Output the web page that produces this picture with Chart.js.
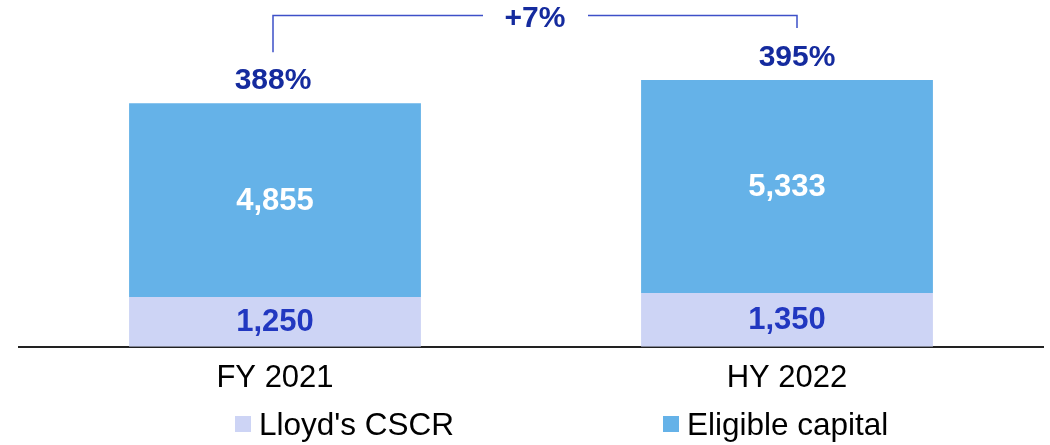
<!DOCTYPE html>
<html>
<head>
<meta charset="utf-8">
<script src="https://cdn.jsdelivr.net/npm/chart.js@4/dist/chart.umd.min.js"></script>
<style>
  html, body { margin: 0; padding: 0; background: #fff; }
  #wrap { position: relative; width: 1050px; height: 445px; }
  .legend-item {
    position: absolute; top: 407px; height: 34px;
    display: flex; align-items: center;
    font: 31.5px "Liberation Sans", Arial, sans-serif; color: #000; white-space: nowrap;
  }
  .legend-item .box { width: 16px; height: 16px; margin-right: 8px; }
</style>
</head>
<body>
<div id="wrap">
  <canvas id="myChart" width="1050" height="445"></canvas>
</div>
<script>
const categories = ["FY 2021", "HY 2022"];
const cscrValues = [1250, 1350];
const eligibleValues = [4855, 5333];
const ratioLabels = ["388%", "395%"];
const changeLabel = "+7%";

const CSCR_COLOR = "#cdd4f5";
const ELIGIBLE_COLOR = "#65b2e8";
const NAVY = "#152b9e";
const LABEL_BLUE = "#2137c0";
const FONT = '"Liberation Sans", Arial, sans-serif';

// value labels, ratio labels and the bracket on top
const labelPlugin = {
  id: "labels",
  afterDatasetsDraw(chart) {
    const ctx = chart.ctx;
    ctx.save();
    ctx.textAlign = "center";
    ctx.textBaseline = "middle";
    ctx.font = "bold 31px " + FONT;

    chart.data.datasets.forEach((ds, di) => {
      const meta = chart.getDatasetMeta(di);
      meta.data.forEach((bar, i) => {
        ctx.fillStyle = di === 0 ? LABEL_BLUE : "#ffffff";
        ctx.fillText(ds.data[i].toLocaleString("en-US"), bar.x, (bar.y + bar.base) / 2 + 1);
      });
    });

    // ratio labels above the stacks
    const top = chart.getDatasetMeta(1).data;
    const dx = [-2, 10];
    ctx.font = "bold 30px " + FONT;
    ctx.fillStyle = NAVY;
    const pts = top.map((bar, i) => ({ x: bar.x + dx[i], y: bar.y - 22 }));
    pts.forEach((p, i) => ctx.fillText(ratioLabels[i], p.x, p.y));

    // bracket with change label
    const lineY = 15.5;
    const midX = (pts[0].x + pts[1].x) / 2;
    ctx.strokeStyle = "#3d50c8";
    ctx.lineWidth = 1.5;
    ctx.beginPath();
    ctx.moveTo(pts[0].x, pts[0].y - 29);
    ctx.lineTo(pts[0].x, lineY);
    ctx.lineTo(midX - 52, lineY);
    ctx.moveTo(midX + 53, lineY);
    ctx.lineTo(pts[1].x, lineY);
    ctx.lineTo(pts[1].x, pts[1].y - 30);
    ctx.stroke();
    ctx.fillText(changeLabel, midX, 19);
    ctx.restore();
  }
};

const chart = new Chart(document.getElementById("myChart"), {
  type: "bar",
  data: {
    labels: categories,
    datasets: [
      { label: "Lloyd's CSCR", data: cscrValues, backgroundColor: CSCR_COLOR },
      { label: "Eligible capital", data: eligibleValues, backgroundColor: ELIGIBLE_COLOR }
    ]
  },
  options: {
    responsive: false,
    animation: false,
    devicePixelRatio: 1,
    layout: { padding: { left: 19, right: 7, top: 0, bottom: 35 } },
    datasets: { bar: { barPercentage: 0.57, categoryPercentage: 1 } },
    plugins: { legend: { display: false }, tooltip: { enabled: false } },
    scales: {
      x: {
        stacked: true,
        grid: { display: false, drawTicks: false },
        border: { display: true, color: "#222", width: 2 },
        ticks: { color: "#000", font: { family: FONT, size: 31 }, padding: 13 }
      },
      y: { stacked: true, display: false, min: 0, max: 8690 }
    }
  },
  plugins: [labelPlugin]
});

// legend below the axis
const legendLeft = [235, 663];
chart.data.datasets.forEach((ds, i) => {
  const item = document.createElement("div");
  item.className = "legend-item";
  item.style.left = legendLeft[i] + "px";
  item.innerHTML = '<span class="box" style="background:' + ds.backgroundColor + '"></span>' + ds.label;
  document.getElementById("wrap").appendChild(item);
});
</script>
</body>
</html>
